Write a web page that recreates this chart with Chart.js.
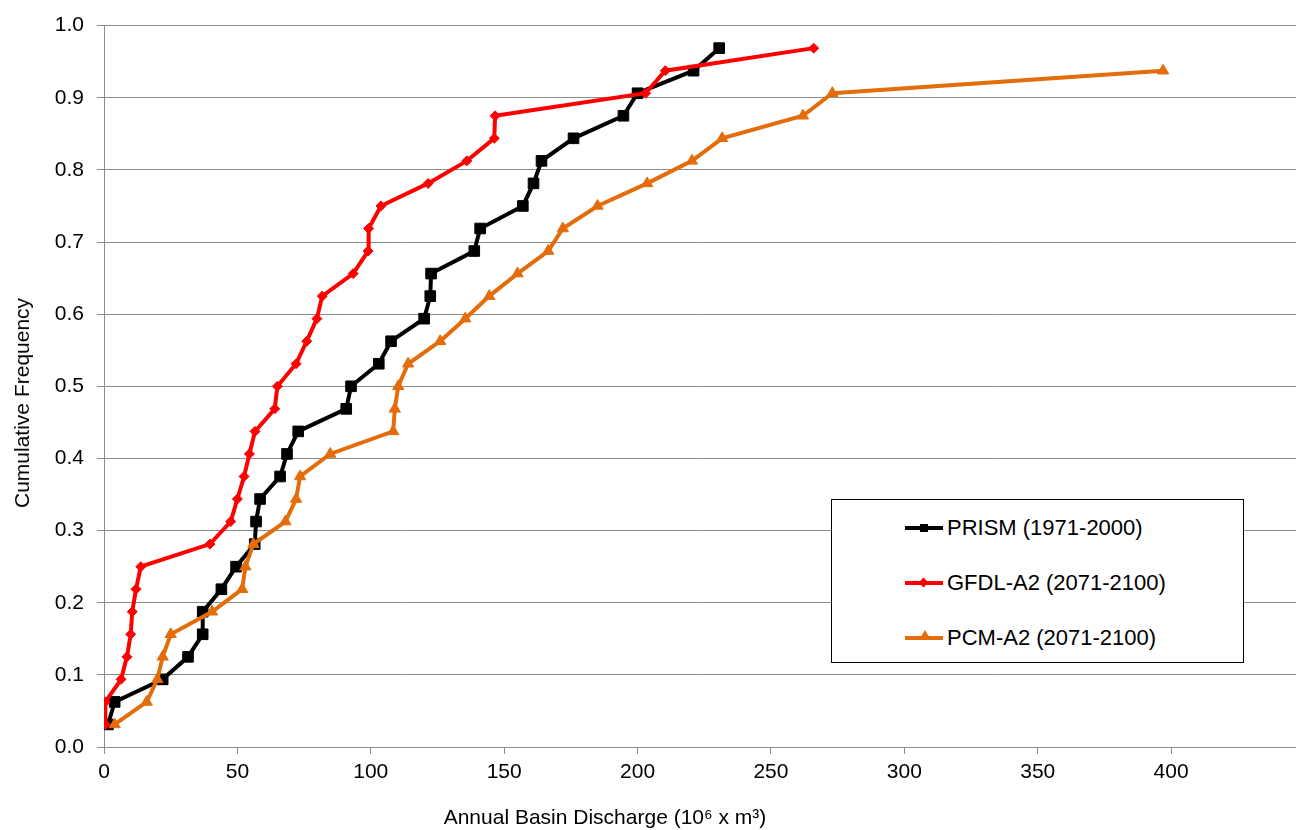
<!DOCTYPE html>
<html>
<head>
<meta charset="utf-8">
<script src="https://cdn.jsdelivr.net/npm/chart.js@4"></script>
<style>
    body { margin: 0; background: #fff; overflow: hidden; font-family: "Liberation Sans", Arial, sans-serif; }
    #wrap { position: relative; width: 1296px; height: 830px; overflow: hidden; }
    .axis-title { position: absolute; font-size: 21px; color: #000; white-space: nowrap; }
    #xTitle { left: 0; width: 1210px; top: 805px; text-align: center; }
    #yTitle { left: 22px; top: 403px; transform: translate(-50%, -50%) rotate(-90deg); }
    #legend { position: absolute; left: 831px; top: 499px; width: 411px; height: 162px; border: 1px solid #000; background: #fff; }
    .row { position: absolute; left: 73px; height: 24px; font-size: 22px; line-height: 24px; }
    .sample { position: absolute; left: 0; top: 10px; width: 38px; height: 4px; }
    .mark { position: absolute; }
    .row span.label { position: absolute; left: 42px; top: 0; white-space: nowrap; }
</style>
</head>
<body>
<div id="wrap">
    <canvas id="cdfChart" width="1305" height="830"></canvas>
    <div class="axis-title" id="yTitle">Cumulative Frequency</div>
    <div class="axis-title" id="xTitle">Annual Basin Discharge (10⁶ x m³)</div>
    <div id="legend">
        <div class="row" style="top:16px">
            <div class="sample" style="background:#000"></div>
            <div class="mark" style="left:15px;top:8px;width:8px;height:8px;background:#000"></div>
            <span class="label">PRISM (1971-2000)</span>
        </div>
        <div class="row" style="top:71px">
            <div class="sample" style="background:#ff0000"></div>
            <div class="mark" style="left:15px;top:8px;width:7px;height:7px;background:#ff0000;transform:rotate(45deg)"></div>
            <span class="label">GFDL-A2 (2071-2100)</span>
        </div>
        <div class="row" style="top:126px">
            <div class="sample" style="background:#e46c0a"></div>
            <div class="mark" style="left:14px;top:4px;width:0;height:0;border-left:6px solid transparent;border-right:6px solid transparent;border-bottom:10px solid #e46c0a"></div>
            <span class="label">PCM-A2 (2071-2100)</span>
        </div>
    </div>
</div>
<script>
// cumulative frequency levels (rank / 32)
const cumFreq = [0.03125, 0.0625, 0.09375, 0.125, 0.15625, 0.1875, 0.21875, 0.25,
    0.28125, 0.3125, 0.34375, 0.375, 0.40625, 0.4375, 0.46875, 0.5,
    0.53125, 0.5625, 0.59375, 0.625, 0.65625, 0.6875, 0.71875, 0.75,
    0.78125, 0.8125, 0.84375, 0.875, 0.90625, 0.9375, 0.96875];

// annual basin discharge, sorted, 10^6 m3
const prismValues = [1.5, 4, 22, 31.5, 37, 37, 44, 49.5, 56.5, 57, 58.5, 66, 68.6, 72.8, 90.8, 92.6,
    103, 107.6, 120, 122.3, 122.6, 138.8, 141, 157, 161, 164, 176, 194.7, 200, 221, 230.6];
const gfdlValues = [0.5, 0.5, 6.4, 8.6, 10, 10.6, 12, 13.8, 39.7, 47.5, 50, 52.5, 54.5, 56.6, 64, 65,
    72, 76, 79.8, 81.8, 93.4, 99, 99.2, 103.8, 121.5, 136, 146.3, 146.6, 203, 210.4, 266];
const pcmValues = [4, 16, 20, 22, 25, 40.5, 51.8, 53, 56, 68, 72, 73.5, 84.8, 108.4, 109, 110.3,
    114, 126, 135.4, 144.4, 155, 166.5, 172, 185, 203.6, 220.4, 231.7, 262, 273, 397];

const seriesNames = ['PRISM (1971-2000)', 'GFDL-A2 (2071-2100)', 'PCM-A2 (2071-2100)'];
const yTicks = [0, 0.1, 0.2, 0.3, 0.4, 0.5, 0.6, 0.7, 0.8, 0.9, 1.0];
const xTicks = [0, 50, 100, 150, 200, 250, 300, 350, 400];

const gridGray = '#8c8c8c';
const tickFont = { family: '"Liberation Sans", Arial, sans-serif', size: 21 };

function toPoints(values) {
    return values.map((v, i) => ({ x: v, y: cumFreq[i] }));
}

function lineSet(label, values, color, style, radius, order) {
    return {
        label: label,
        data: toPoints(values),
        borderColor: color,
        backgroundColor: color,
        borderWidth: 4,
        pointStyle: style,
        pointRadius: radius,
        pointBorderWidth: 1,
        pointBorderColor: color,
        pointBackgroundColor: color,
        tension: 0,
        order: order
    };
}

const ctx = document.getElementById('cdfChart').getContext('2d');
new Chart(ctx, {
    type: 'line',
    data: {
        datasets: [
            lineSet(seriesNames[0], prismValues, '#000000', 'rect', 7.5, 2),
            lineSet(seriesNames[1], gfdlValues, '#ff0000', 'rectRot', 5, 1),
            lineSet(seriesNames[2], pcmValues, '#e46c0a', 'triangle', 6.5, 0)
        ]
    },
    options: {
        responsive: false,
        animation: false,
        layout: { padding: { top: 22, left: 0, right: 0, bottom: 0 } },
        plugins: {
            legend: { display: false },
            tooltip: { enabled: false }
        },
        scales: {
            x: {
                type: 'linear',
                min: 0,
                max: 447,
                afterBuildTicks: axis => { axis.ticks = xTicks.map(v => ({ value: v })); },
                afterFit: scale => { scale.height = 83; },
                grid: { drawOnChartArea: false, drawTicks: true, tickLength: 7, color: gridGray },
                border: { color: gridGray, width: 1 },
                ticks: { font: tickFont, color: '#000', padding: 6, maxRotation: 0, autoSkip: false }
            },
            y: {
                min: 0,
                max: 1,
                afterBuildTicks: axis => { axis.ticks = yTicks.map(v => ({ value: v })); },
                afterFit: scale => { scale.width = 104; },
                grid: { color: gridGray, tickLength: 7 },
                border: { color: gridGray, width: 1 },
                ticks: {
                    font: tickFont,
                    color: '#000',
                    padding: 13,
                    callback: v => v.toFixed(1)
                }
            }
        }
    }
});
</script>
</body>
</html>
